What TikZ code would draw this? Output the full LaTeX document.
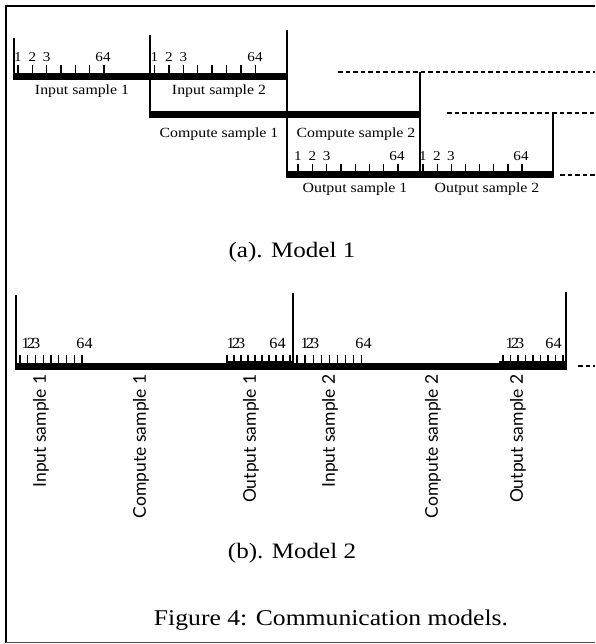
\documentclass[tikz,border=0pt]{standalone}
\usepackage{fontspec}
\setmainfont{Liberation Serif}
\newfontfamily\labsans{Lato}
\begin{document}
\begin{tikzpicture}[x=1pt,y=-1pt,
  bar/.style={line width=7pt},
  barB/.style={line width=8.5pt},
  post/.style={line width=2.2pt},
  tk/.style={line width=1.3pt},
  dline/.style={line width=2pt, dash pattern=on 4.5pt off 3pt},
  dig/.style={font=\fontsize{13.5}{14}\selectfont, xscale=1.12, anchor=base, inner sep=0pt},
  digB/.style={font=\fontsize{15.5}{16}\selectfont, xscale=1.05, anchor=base, inner sep=0pt},
  lab/.style={font=\fontsize{14}{15}\selectfont, xscale=1.13, anchor=base, inner sep=0pt},
  vlab/.style={font=\labsans\fontsize{17.5}{19}\selectfont, rotate=90, anchor=east, inner sep=0pt},
  captext/.style={font=\fontsize{22}{24}\selectfont, xscale=1.14, anchor=base, inner sep=0pt}]
\useasboundingbox (0,0) rectangle (595,644);
% frame
\coordinate (fTL) at (6,6); \coordinate (fTR) at (595,6);
\coordinate (fBL) at (6,643); \coordinate (fBR) at (595,642.5);
\draw[line width=1.6pt] (fTR) -- (fTL);
\draw[line width=2.6pt] (6,5.2) -- (fBL);
\draw[line width=0.8pt, black!70] (6,642.5) -- (fBR);

% ================= Model 1 =================
\coordinate (p1t) at (14,38);  \coordinate (p1b) at (14,80);
\coordinate (p2t) at (150,35); \coordinate (p2b) at (150,118);
\coordinate (p3t) at (287,30); \coordinate (p3b) at (287,178);
\coordinate (p4t) at (420,72); \coordinate (p4b) at (420,178);
\coordinate (p5t) at (553,113); \coordinate (p5b) at (553,178);
\draw[post] (p1t) -- (p1b);
\draw[post] (p2t) -- (p2b);
\draw[post] (p3t) -- (p3b);
\draw[post] (p4t) -- (p4b);
\draw[post] (p5t) -- (p5b);
\coordinate (inA) at (13,76.5);  \coordinate (inB) at (288,76.5);
\coordinate (cpA) at (149,115);  \coordinate (cpB) at (421,115);
\coordinate (outA) at (286,175); \coordinate (outB) at (554,175);
\draw[bar] (inA) -- (inB);
\draw[bar] (cpA) -- (cpB);
\draw[bar] (outA) -- (outB);
\coordinate (d1a) at (338,72);  \coordinate (d1b) at (595,72);
\coordinate (d2a) at (447,113); \coordinate (d2b) at (595,113);
\coordinate (d3a) at (560,175); \coordinate (d3b) at (595,175);
\draw[dline] (d1a) -- (d1b);
\draw[dline] (d2a) -- (d2b);
\draw[dline] (d3a) -- (d3b);
\foreach \i in {0,...,6} \draw[tk] ({18+\i*14.33},65) -- ({18+\i*14.33},74);
\foreach \i in {0,...,7} \draw[tk] ({154.5+\i*14.4},65) -- ({154.5+\i*14.4},74);
\foreach \i in {0,...,7} \draw[tk] ({298+\i*14.3},164) -- ({298+\i*14.3},172);
\foreach \i in {0,...,7} \draw[tk] ({423+\i*14.15},164) -- ({423+\i*14.15},172);
\node[dig] (a1) at (18,62) {1};   \node[dig] (a2) at (32.3,62) {2};
\node[dig] (a3) at (46.6,62) {3}; \node[dig] (a64) at (103,62) {64};
\node[dig] (b1) at (154.5,62) {1}; \node[dig] (b2) at (169,62) {2};
\node[dig] (b3) at (183.3,62) {3}; \node[dig] (b64) at (255,62) {64};
\node[dig] (c1) at (298,161) {1};  \node[dig] (c2) at (312.3,161) {2};
\node[dig] (c3) at (326.6,161) {3}; \node[dig] (c64) at (397,161) {64};
\node[dig] (e1) at (423,161) {1};  \node[dig] (e2) at (437,161) {2};
\node[dig] (e3) at (451,161) {3};  \node[dig] (e64) at (521,161) {64};
\node[lab] (in1) at (82,95) {Input sample 1};
\node[lab] (in2) at (219,95) {Input sample 2};
\node[lab] (cp1) at (219,138) {Compute sample 1};
\node[lab] (cp2) at (356,138) {Compute sample 2};
\node[lab] (out1) at (355,193) {Output sample 1};
\node[lab] (out2) at (487,193) {Output sample 2};
\node[captext] (capa) at (292,257) {(a). Model 1};

% ================= Model 2 =================
\coordinate (q1t) at (16,295);  \coordinate (q1b) at (16,370);
\coordinate (q2t) at (293,293); \coordinate (q2b) at (293,370);
\coordinate (q3t) at (566,292); \coordinate (q3b) at (566,370);
\coordinate (mA) at (15,366); \coordinate (mB) at (567,366);
\draw[bar] (mA) -- (mB);
\coordinate (t1a) at (226,365.5); \coordinate (t1b) at (293,365.5);
\coordinate (t2a) at (499,365.5); \coordinate (t2b) at (567,365.5);
\draw[barB] (t1a) -- (t1b);
\draw[barB] (t2a) -- (t2b);
\draw[post] (q1t) -- (q1b);
\draw[post] (q2t) -- (q2b);
\draw[post] (q3t) -- (q3b);
\coordinate (d4a) at (578,366); \coordinate (d4b) at (595,366);
\draw[dline] (d4a) -- (d4b);
\foreach \i in {0,...,8} \draw[tk] ({20+\i*7.75},355) -- ({20+\i*7.75},363);
\foreach \i in {0,...,9} \draw[tk] ({227+\i*7},355) -- ({227+\i*7},363);
\foreach \i in {0,...,8} \draw[tk] ({297+\i*8.1},355) -- ({297+\i*8.1},363);
\foreach \i in {0,...,8} \draw[tk] ({503+\i*7.5},355) -- ({503+\i*7.5},363);
\node[digB] (fA) at (31,348) {1\kern-2.8pt2\kern-2.8pt3};
\node[digB] (fB) at (84.5,348) {64};
\node[digB] (gA) at (236,348) {1\kern-2.8pt2\kern-2.8pt3};
\node[digB] (gB) at (277.5,348) {64};
\node[digB] (hA) at (310,348) {1\kern-2.8pt2\kern-2.8pt3};
\node[digB] (hB) at (363.5,348) {64};
\node[digB] (kA) at (515,348) {1\kern-2.8pt2\kern-2.8pt3};
\node[digB] (kB) at (553.5,348) {64};
\node[vlab] (v1) at (41,374) {Input sample 1};
\node[vlab] (v2) at (141,374) {Compute sample 1};
\node[vlab] (v3) at (251,374) {Output sample 1};
\node[vlab] (v4) at (330,374) {Input sample 2};
\node[vlab] (v5) at (433,374) {Compute sample 2};
\node[vlab] (v6) at (518,374) {Output sample 2};
\node[captext] (capb) at (292,558) {(b). Model 2};
\node[captext, font=\fontsize{22.5}{25}\selectfont] (fig) at (331,625) {Figure 4: Communication models.};
\end{tikzpicture}
\end{document}
